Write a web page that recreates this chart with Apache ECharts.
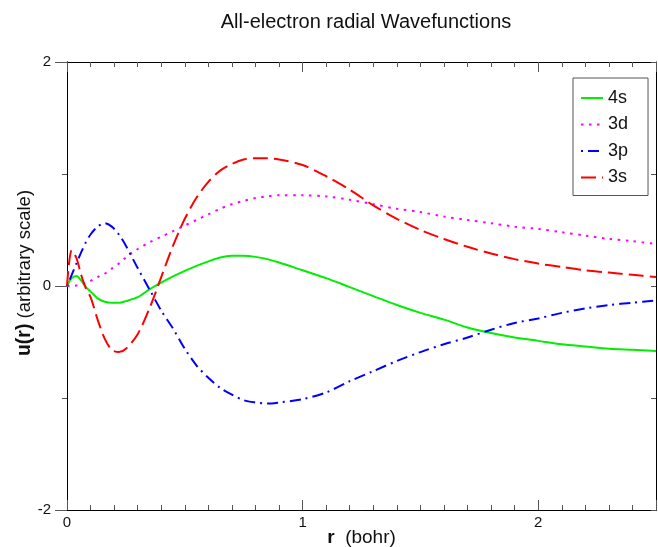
<!DOCTYPE html>
<html>
<head>
<meta charset="utf-8">
<script src="https://cdn.jsdelivr.net/npm/echarts@6/dist/echarts.min.js"></script>
<style>
  html, body { margin: 0; padding: 0; background: #fff; overflow: hidden; }
  #chart { width: 658px; height: 547px; }
</style>
</head>
<body>
<div id="chart"></div>
<script>
// radius grid (bohr), shared by all orbitals
const r = [0, 0.02, 0.04, 0.06, 0.08, 0.1, 0.13, 0.16, 0.19, 0.22, 0.25, 0.3, 0.35, 0.4, 0.45,
  0.5, 0.55, 0.6, 0.65, 0.7, 0.75, 0.8, 0.85, 0.9, 1.0, 1.1, 1.2, 1.3, 1.4, 1.5, 1.6, 1.7,
  1.8, 1.9, 2.0, 2.1, 2.2, 2.3, 2.4, 2.5];

// u(r) for each orbital
const u4s = [0, 0.07, 0.09, 0.05, -0.01, -0.05, -0.11, -0.14, -0.15, -0.15, -0.135, -0.1, -0.03,
  0.03, 0.085, 0.135, 0.18, 0.22, 0.255, 0.27, 0.27, 0.26, 0.24, 0.21, 0.14, 0.07, -0.01, -0.09,
  -0.17, -0.24, -0.3, -0.37, -0.42, -0.46, -0.49, -0.52, -0.54, -0.56, -0.57, -0.58];
const u3d = [0, 0.0, 0.005, 0.015, 0.03, 0.045, 0.08, 0.11, 0.155, 0.2, 0.255, 0.33, 0.39, 0.44,
  0.49, 0.54, 0.59, 0.64, 0.69, 0.73, 0.76, 0.785, 0.8, 0.81, 0.81, 0.8, 0.77, 0.73, 0.69, 0.66,
  0.62, 0.59, 0.56, 0.53, 0.51, 0.48, 0.45, 0.42, 0.4, 0.375];
const u3p = [0, 0.1, 0.2, 0.3, 0.39, 0.46, 0.53, 0.56, 0.53, 0.46, 0.36, 0.16, -0.03, -0.22,
  -0.38, -0.56, -0.71, -0.82, -0.91, -0.97, -1.02, -1.04, -1.05, -1.04, -1.01, -0.95, -0.85,
  -0.76, -0.67, -0.59, -0.52, -0.46, -0.39, -0.33, -0.29, -0.24, -0.2, -0.17, -0.15, -0.13];
const u3s = [0, 0.32, 0.25, 0.1, -0.02, -0.1, -0.3, -0.47, -0.57, -0.59, -0.56, -0.43, -0.2,
  0.08, 0.36, 0.6, 0.79, 0.93, 1.03, 1.09, 1.13, 1.14, 1.14, 1.13, 1.08, 0.98, 0.86, 0.72, 0.6,
  0.5, 0.42, 0.35, 0.29, 0.24, 0.2, 0.17, 0.14, 0.12, 0.1, 0.08];

const names = ['4s', '3d', '3p', '3s'];
const xTicks = [0, 1, 2];
const yTicks = [-2, 0, 2];

const pairs = (ys) => r.map((x, i) => [x, ys[i]]);

const FONT = '"Liberation Sans", Arial, sans-serif';
const tickColor = '#555';

function xAxisDef(pos, interval, len, labels) {
  return {
    type: 'value', position: pos, min: 0, max: 2.5, interval: interval,
    axisLine: { show: true, onZero: false, lineStyle: { color: '#000', width: 1 } },
    axisTick: { show: true, inside: true, length: len, lineStyle: { color: tickColor, width: 1 } },
    axisLabel: labels ? {
      show: true, color: '#111', fontSize: 15, fontFamily: FONT, margin: 5,
      formatter: (v) => xTicks.includes(v) ? String(v) : ''
    } : { show: false },
    splitLine: { show: false }
  };
}
function yAxisDef(pos, interval, len, inside, labels) {
  return {
    type: 'value', position: pos, min: -2, max: 2, interval: interval,
    axisLine: { show: true, onZero: false, lineStyle: { color: '#000', width: 1 } },
    axisTick: { show: true, inside: inside, length: len, lineStyle: { color: tickColor, width: 1 } },
    axisLabel: labels ? {
      show: true, color: '#111', fontSize: 15, fontFamily: FONT, margin: 16,
      formatter: (v) => yTicks.includes(v) ? String(v) : ''
    } : { show: false },
    splitLine: { show: false }
  };
}

const xMain = xAxisDef('bottom', 1, 10, true);
xMain.name = '{b|r}  (bohr)';
xMain.nameLocation = 'middle';
xMain.nameGap = 18;
xMain.nameMoveOverlap = false;
xMain.nameTextStyle = {
  color: '#111', fontSize: 19, fontFamily: FONT,
  rich: { b: { fontWeight: 'bold', fontSize: 19, fontFamily: FONT, color: '#111' } }
};

const yMain = yAxisDef('left', 2, 12, false, true);
yMain.name = '{b|u(r)} (arbitrary scale)';
yMain.nameLocation = 'middle';
yMain.nameGap = 32;
yMain.nameMoveOverlap = false;
yMain.nameRotate = 90;
yMain.nameTextStyle = {
  color: '#111', fontSize: 18.5, fontFamily: FONT, padding: [0, 0, 0, 26],
  rich: { b: { fontWeight: 'bold', fontSize: 19.5, fontFamily: FONT, color: '#111' } }
};

const styles = {
  '4s': { color: '#00ee00', type: 'solid' },
  '3d': { color: '#ff00ff', type: [2.5, 5.5] },
  '3p': { color: '#0000ff', type: [2, 5, 11, 5] },
  '3s': { color: '#ff0000', type: [15, 6] }
};
const dataMap = { '4s': u4s, '3d': u3d, '3p': u3p, '3s': u3s };

const chart = echarts.init(document.getElementById('chart'), null, { renderer: 'canvas' });
chart.setOption({
  animation: false,
  backgroundColor: '#fff',
  title: {
    text: 'All-electron radial Wavefunctions',
    left: 361, top: 7, textAlign: 'center',
    textStyle: { fontSize: 20, fontWeight: 'normal', color: '#111', fontFamily: FONT }
  },
  grid: { left: 67, right: 2, top: 62, bottom: 37, containLabel: false, outerBoundsMode: 'none' },
  xAxis: [
    xMain,
    xAxisDef('bottom', 0.1, 5, false),
    xAxisDef('top', 1, 10, false),
    xAxisDef('top', 0.1, 5, false)
  ],
  yAxis: [
    yMain,
    yAxisDef('left', 1, 5, false, false),
    yAxisDef('right', 1, 5, true, false)
  ],
  legend: {
    data: names,
    orient: 'vertical',
    left: 573, top: 78,
    padding: [11, 20, 9, 7],
    itemGap: 8.5,
    itemWidth: 22, itemHeight: 14,
    itemTextGap: 11,
    // line sample only, no marker
    itemStyle: { opacity: 0, borderWidth: 0 },
    backgroundColor: '#fff',
    borderColor: '#555', borderWidth: 1,
    textStyle: { fontSize: 18, color: '#111', fontFamily: FONT, lineHeight: 18 }
  },
  series: names.map((n) => ({
    name: n,
    type: 'line',
    xAxisIndex: 0, yAxisIndex: 0,
    data: pairs(dataMap[n]),
    smooth: 0.3,
    symbol: 'none',
    lineStyle: { color: styles[n].color, type: styles[n].type, width: 2 },
    itemStyle: { color: styles[n].color },
    z: 3
  }))
});
</script>
</body>
</html>
